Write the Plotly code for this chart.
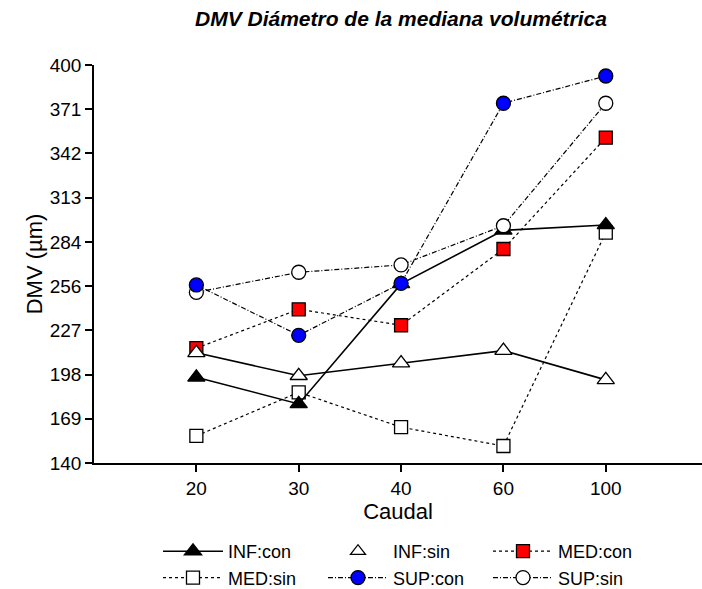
import numpy as np
import plotly.graph_objects as go

caudal = ["20", "30", "40", "60", "100"]

inf_con = [196, 178.6, 257, 292, 295.5]
inf_sin = [212, 197, 205.2, 213.4, 194.3]
med_con = [215, 240.4, 230, 279.8, 352.5]
med_sin = [157.7, 186.2, 163.4, 151.1, 290.5]
sup_con = [256.3, 223.4, 257.4, 375, 392.8]
sup_sin = [251.5, 264.6, 269.4, 295, 375]

y_tickvals = list(np.linspace(140, 400, 10))
y_ticktext = ["140", "169", "198", "227", "256", "284", "313", "342", "371", "400"]

FONT = "Liberation Sans, Arial, sans-serif"

fig = go.Figure()

def add(name, y, dash, width, symbol, fill, size, showlegend=True, rank=None):
    fig.add_trace(go.Scatter(
        x=caudal, y=y, name=name, mode="lines+markers",
        line=dict(color="black", dash=dash, width=width),
        marker=dict(symbol=symbol, color=fill, size=size,
                    line=dict(color="black", width=1.3)),
        showlegend=showlegend, legendrank=rank, cliponaxis=False,
    ))

dashdot = "5px,2px,1px,2px"

add("MED:sin", med_sin, "dot", 1.2, "square", "white", 13, rank=4)
add("MED:con", med_con, "dot", 1.2, "square", "#ff0000", 13, rank=3)
add("INF:sin", inf_sin, "solid", 1.6, "triangle-up", "white", 15, showlegend=False)
add("INF:con", inf_con, "solid", 1.6, "triangle-up", "black", 15, rank=1)
add("SUP:sin", sup_sin, dashdot, 1.2, "circle", "white", 14, rank=6)
add("SUP:con", sup_con, dashdot, 1.2, "circle", "#0000ff", 14, rank=5)

# legend-only entry for INF:sin (shown with marker only, as in the reference)
fig.add_trace(go.Scatter(
    x=[None], y=[None], name="INF:sin", mode="markers",
    marker=dict(symbol="triangle-up", color="white", size=13,
                line=dict(color="black", width=1.3)),
    legendrank=2,
))

fig.update_layout(
    width=702, height=589,
    margin=dict(l=93.5, r=0, t=65, b=126),
    paper_bgcolor="white", plot_bgcolor="white",
    font=dict(family=FONT, color="black", size=18),
    title=dict(text="<b><i>DMV Diámetro de la mediana volumétrica</i></b>",
               x=401 / 702, xanchor="center", y=1 - 19 / 589, yanchor="middle",
               font=dict(size=21, family=FONT)),
    showlegend=True,
    legend=dict(orientation="h", xref="container", yref="container",
                x=158 / 702, xanchor="left", y=1 - 533 / 589, yanchor="top",
                entrywidth=90, entrywidthmode="pixels", itemwidth=60,
                font=dict(size=18, family=FONT), traceorder="normal",
                bgcolor="rgba(0,0,0,0)"),
)

fig.update_xaxes(
    type="category", range=[-1, 4.94], showline=True, linecolor="black", linewidth=1.5,
    ticks="outside", ticklen=7, tickcolor="black", tickwidth=1.5, showgrid=False,
    zeroline=False, tickfont=dict(size=19),
    title=dict(text="Caudal", font=dict(size=22), standoff=4),
)
fig.update_yaxes(
    range=[140, 400], tickvals=y_tickvals, ticktext=y_ticktext,
    showline=True, linecolor="black", linewidth=1.5,
    ticks="outside", ticklen=7, tickcolor="black", tickwidth=1.5, showgrid=False,
    zeroline=False, tickfont=dict(size=19),
    title=dict(text="DMV (µm)", font=dict(size=22), standoff=1),
)

fig.write_html("out.html")
